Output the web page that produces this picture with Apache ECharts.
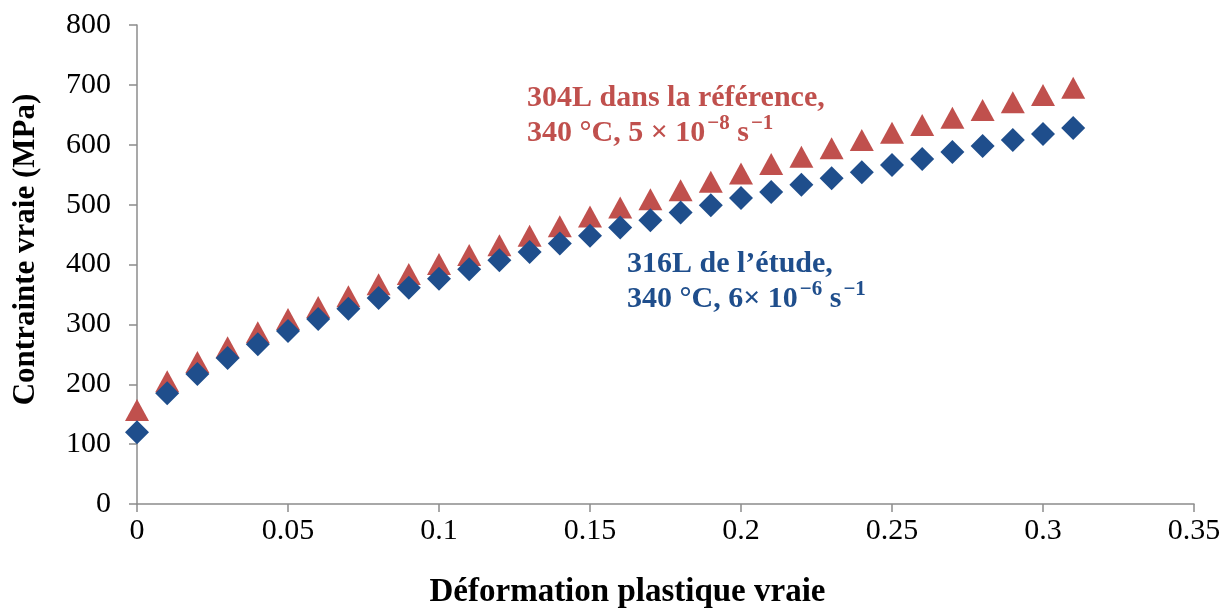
<!DOCTYPE html>
<html>
<head>
<meta charset="utf-8">
<script src="https://cdn.jsdelivr.net/npm/echarts@6/dist/echarts.min.js"></script>
<style>html,body{margin:0;padding:0;background:#fff}#c{width:1222px;height:609px}</style>
</head>
<body>
<div id="c"></div>
<script>
const strain = [0,0.01,0.02,0.03,0.04,0.05,0.06,0.07,0.08,0.09,0.10,0.11,0.12,0.13,0.14,0.15,0.16,0.17,0.18,0.19,0.20,0.21,0.22,0.23,0.24,0.25,0.26,0.27,0.28,0.29,0.30,0.31];
const stress316L = [120,185,217,244,267,289,309,326,344,361,376,392,407,421,435,448,462,474,487,499,511,521,533,544,554,566,576,588,598,608,618,628];
const stress304L = [157,205,237,262,287,309,329,347,367,384,401,416,432,448,464,480,495,509,524,538,552,568,580,594,608,620,633,645,658,671,683,695];
const xTicks = [0,0.05,0.1,0.15,0.2,0.25,0.3,0.35];
const yTicks = [0,100,200,300,400,500,600,700,800];
const label304 = '{b|304L dans la référence,}\n{b|340 °C, 5 × 10}{s|−8}{b| s}{s|−1}';
const label316 = '{b|316L de l’étude,}\n{b|340 °C, 6× 10}{s|−6}{b| s}{s|−1}';

const RED = '#C0504D', BLUE = '#1F4E8C';
const FONT = '"Liberation Serif", "Times New Roman", serif';
function rich(color) {
  return {
    b: {fontFamily: FONT, fontSize: 30, fontWeight: 'bold', fill: color, lineHeight: 35, verticalAlign: 'bottom'},
    s: {fontFamily: FONT, fontSize: 21, fontWeight: 'bold', fill: color, lineHeight: 35, verticalAlign: 'top', padding: [0, 0, 0, 2]}
  };
}
const chart = echarts.init(document.getElementById('c'), null, {renderer: 'canvas'});
chart.setOption({
  backgroundColor: '#fff',
  animation: false,
  grid: {left: 137, right: 28, top: 25, bottom: 105, containLabel: false, outerBoundsMode: 'none'},
  xAxis: {
    type: 'value', min: xTicks[0], max: xTicks[xTicks.length-1], interval: 0.05,
    name: 'Déformation plastique vraie', nameLocation: 'middle', nameGap: 72,
    nameTextStyle: {fontFamily: FONT, fontSize: 33, fontWeight: 'bold', color: '#000', padding: [0, 76, 0, 0]},
    axisLine: {lineStyle: {color: '#8c8c8c', width: 1.5}},
    axisTick: {show: true, length: 8, lineStyle: {color: '#8c8c8c', width: 1.5}},
    axisLabel: {fontFamily: FONT, fontSize: 30, color: '#000', margin: 12,
      formatter: v => String(parseFloat(v.toFixed(2)))},
    splitLine: {show: false}
  },
  yAxis: {
    type: 'value', min: yTicks[0], max: yTicks[yTicks.length-1], interval: 100,
    name: 'Contrainte vraie (MPa)', nameLocation: 'middle', nameGap: 96,
    nameTextStyle: {fontFamily: FONT, fontSize: 31, fontWeight: 'bold', color: '#000', padding: [0, 0, 0, 30]},
    axisLine: {show: true, lineStyle: {color: '#8c8c8c', width: 1.5}},
    axisTick: {show: true, length: 8, lineStyle: {color: '#8c8c8c', width: 1.5}},
    axisLabel: {fontFamily: FONT, fontSize: 30, color: '#000', margin: 26},
    splitLine: {show: false}
  },
  series: [
    {
      name: '304L', type: 'scatter', symbol: 'triangle', symbolSize: [24, 22],
      itemStyle: {color: RED, opacity: 1},
      data: strain.map((x, i) => [x, stress304L[i]]), z: 2
    },
    {
      name: '316L', type: 'scatter', symbol: 'diamond', symbolSize: [24, 24],
      itemStyle: {color: BLUE, opacity: 1},
      data: strain.map((x, i) => [x, stress316L[i]]), z: 3
    }
  ],
  graphic: [
    {type: 'text', left: 527, top: 83, style: {text: label304, rich: rich(RED)}},
    {type: 'text', left: 627, top: 249, style: {text: label316, rich: rich(BLUE)}}
  ]
});
</script>
</body>
</html>
